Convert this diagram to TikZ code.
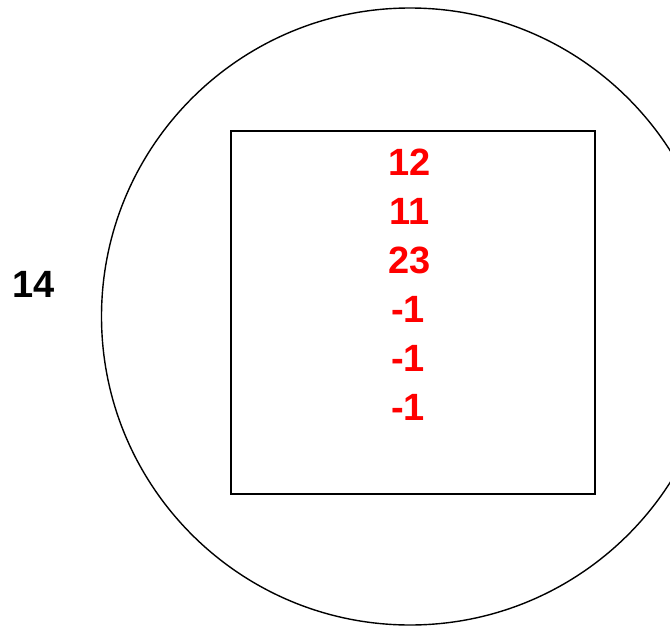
\documentclass[tikz,border=0pt]{standalone}
\usepackage{fontspec}
\setmainfont{Liberation Sans}
\begin{document}
\begin{tikzpicture}[x=1pt,y=-1pt,
  num/.style={font=\fontsize{38}{38}\selectfont\bfseries, inner sep=0pt, anchor=center},
  rednum/.style={num, text=red},
  line/.style={draw=black, line width=1.4pt}]
\useasboundingbox (0,0) rectangle (670,627);
\begin{scope}
\clip (0,0) rectangle (670,627);
\draw[line] (410,316.5) circle[radius=308.5];
\end{scope}
\node[line, minimum width=364pt, minimum height=363pt, inner sep=0pt] (box) at (413,312.5) {};
\node[num] (lbl) at (34,284) {14};
\node[rednum] (n1) at (410,162) {12};
\node[rednum] (n2) at (410,211) {11};
\node[rednum] (n3) at (410,260) {23};
\node[rednum] (n4) at (408,309) {-1};
\node[rednum] (n5) at (408,358) {-1};
\node[rednum] (n6) at (408,407) {-1};
\end{tikzpicture}
\end{document}
